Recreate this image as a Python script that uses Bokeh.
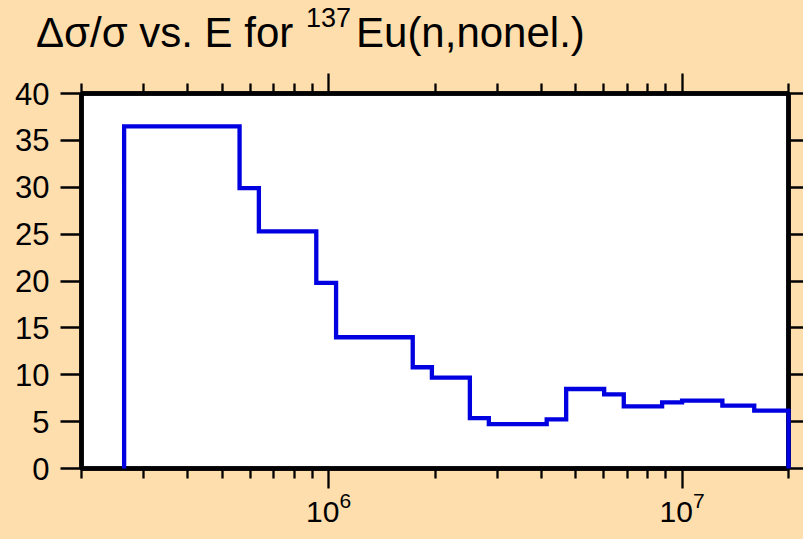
from bokeh.plotting import figure
from bokeh.models import (LogAxis, LinearAxis, FixedTicker, Div,
                          CustomJSTickFormatter, Range1d)
from bokeh.layouts import column
from bokeh.embed import file_html
from bokeh.resources import INLINE

# ---------------- data ----------------
title_main = "Δσ/σ vs. E for "
title_sup = "137"
title_tail = "Eu(n,nonel.)"

# group boundaries (eV) and relative uncertainty (%) per group
energy_edges = [2.64e5, 5.60e5, 6.35e5, 9.23e5, 1.05e6, 1.73e6, 1.96e6,
                2.51e6, 2.84e6, 4.14e6, 4.70e6, 6.02e6, 6.84e6, 8.78e6,
                1.00e7, 1.30e7, 1.60e7, 2.00e7]
rel_unc = [36.5, 29.9, 25.3, 19.8, 14.0, 10.8, 9.7, 5.38, 4.74, 5.24,
           8.48, 7.91, 6.63, 7.06, 7.24, 6.70, 6.17]

x_major_ticks = [1e6, 1e7]
x_minor_ticks = [2e5, 3e5, 4e5, 5e5, 6e5, 7e5, 8e5, 9e5,
                 2e6, 3e6, 4e6, 5e6, 6e6, 7e6, 8e6, 9e6, 2e7]
y_ticks = [0, 5, 10, 15, 20, 25, 30, 35, 40]
x_limits = (2e5, 2e7)
y_limits = (0, 40)

# ---------------- style ----------------
BG = "#FFDEAD"
BLUE = "#0000E0"
FONT = "Liberation Sans"
TITLE_H = 66

title = Div(
    text=('<div style="padding:12px 0 0 36px;margin:0;font-size:42px;'
          'line-height:42px;white-space:nowrap;">'
          f'{title_main}<span style="font-size:27px;position:relative;top:-20px;'
          f'margin-left:1px;margin-right:5px;">'
          f'{title_sup}</span>{title_tail}</div>'),
    width=803, height=TITLE_H,
    styles={"font-family": FONT, "color": "black", "margin": "0",
            "padding": "0", "overflow": "visible"})

p = figure(width=803, height=539 - TITLE_H, x_axis_type="log",
           x_range=Range1d(*x_limits), y_range=Range1d(*y_limits),
           output_backend="svg", toolbar_location=None,
           min_border_left=81, min_border_right=15,
           min_border_top=93 - TITLE_H, min_border_bottom=71,
           background_fill_color="white", border_fill_color=BG)
p.grid.visible = False
p.outline_line_color = "black"
p.outline_line_width = 4.5

# histogram-style step line built from the group data
xs = [energy_edges[0]]
ys = [0]
for i, v in enumerate(rel_unc):
    xs += [energy_edges[i], energy_edges[i + 1]]
    ys += [v, v]
xs.append(energy_edges[-1])
ys.append(0)
r = p.line(xs, ys, line_color=BLUE, line_width=4.3, line_join="miter")
r.level = "overlay"

xticker = FixedTicker(ticks=x_major_ticks, minor_ticks=x_minor_ticks)
yticker = FixedTicker(ticks=y_ticks, minor_ticks=[])


def style_axis(ax, tick_out, minor_out):
    ax.axis_line_width = 4.5
    ax.axis_line_color = "black"
    ax.major_tick_in = 0
    ax.major_tick_out = tick_out
    ax.minor_tick_in = 0
    ax.minor_tick_out = minor_out
    ax.major_tick_line_width = 2.3
    ax.minor_tick_line_width = 2.3
    ax.major_label_text_font = FONT
    ax.major_label_text_color = "black"


bx = p.xaxis[0]
bx.ticker = xticker
style_axis(bx, 20, 10)
bx.major_label_text_font_size = "30px"
bx.major_label_standoff = 3

ly = p.yaxis[0]
ly.ticker = yticker
style_axis(ly, 21, 0)
ly.major_label_text_font_size = "31px"
ly.major_label_standoff = 11

tx = LogAxis(ticker=xticker, formatter=CustomJSTickFormatter(code="return ''"))
style_axis(tx, 20, 10)
tx.major_label_standoff = 0
tx.major_label_text_font_size = "1px"
p.add_layout(tx, "above")

ry = LinearAxis(ticker=yticker, formatter=CustomJSTickFormatter(code="return ''"))
style_axis(ry, 15, 0)
ry.major_label_standoff = 0
ry.major_label_text_font_size = "1px"
p.add_layout(ry, "right")

layout = column(title, p, spacing=0)

html = file_html(layout, INLINE)
html = html.replace("<head>", "<head><style>body{background:%s;}</style>" % BG, 1)
open("out.html", "w").write(html)
